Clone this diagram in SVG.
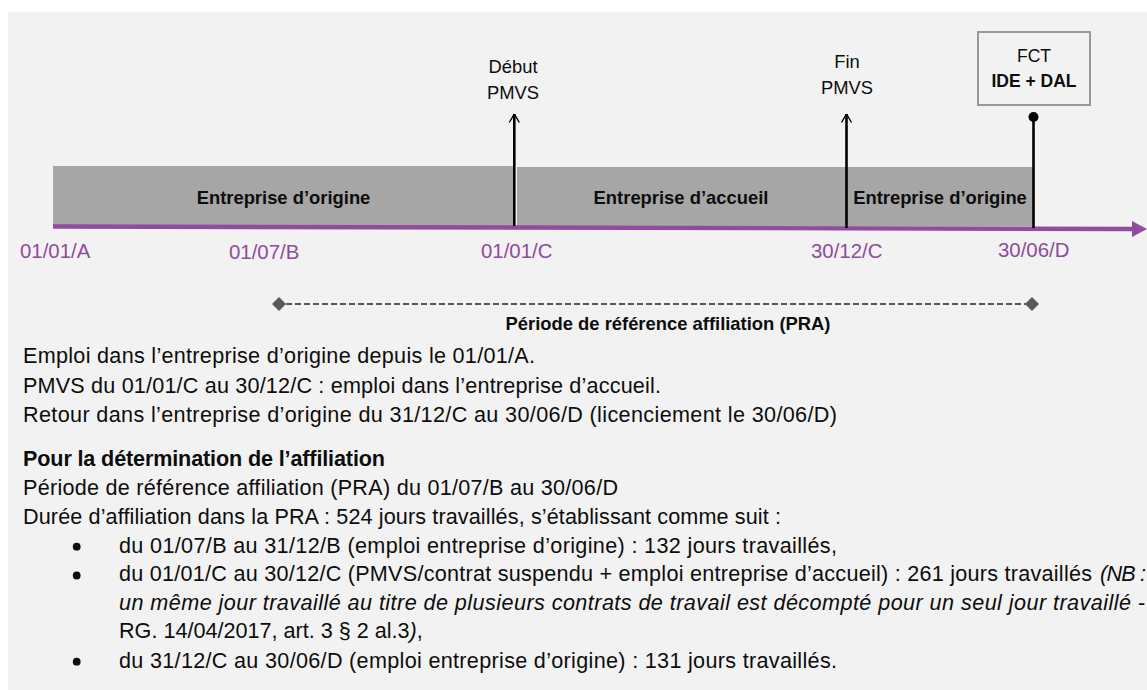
<svg xmlns="http://www.w3.org/2000/svg" width="1147" height="690" viewBox="0 0 1147 690">
  <defs>
    <style>
      .t { font-family: "Liberation Sans", Arial, sans-serif; fill: #0d0d0d; }
      .body { font-size: 21.6px; }
      .bold { font-weight: bold; }
      .it { font-style: italic; }
      .bar { fill: #a6a6a6; }
      .bartxt { font-size: 18.4px; font-weight: bold; text-anchor: middle; }
      .date { font-family: "Liberation Sans", Arial, sans-serif; font-size: 20.4px; fill: #8e4c9b; }
      .evt { font-size: 18.4px; text-anchor: middle; }
      .stem { stroke: #000; stroke-width: 2.6; fill: none; }
      .bul { fill: #0d0d0d; }
      .dia { fill: #595959; }
    </style>
    <marker id="openArrow" viewBox="0 0 10 12" refX="9.5" refY="6" markerWidth="10" markerHeight="12" markerUnits="userSpaceOnUse" orient="auto">
      <path d="M1,1 L9.5,6 L1,11" fill="none" stroke="#000" stroke-width="1.4"/>
    </marker>
  </defs>

  <rect x="8" y="12" width="1139" height="678" fill="#f2f2f2"/>

  <g id="bar-origine-1">
    <rect class="bar" x="53" y="166" width="460" height="60"/>
    <text class="t bartxt" x="283.5" y="204">Entreprise d’origine</text>
  </g>
  <g id="bar-accueil">
    <rect class="bar" x="517" y="167" width="329" height="59"/>
    <text class="t bartxt" x="681" y="204">Entreprise d’accueil</text>
  </g>
  <g id="bar-origine-2">
    <rect class="bar" x="846" y="167" width="187" height="59"/>
    <text class="t bartxt" x="940" y="204">Entreprise d’origine</text>
  </g>

  <g id="connectors">
    <line x1="53" y1="226.5" x2="1134" y2="229" stroke="#904c9e" stroke-width="4.4"/>
    <polygon points="1132,221 1147,229 1132,237" fill="#904c9e"/>
    <line class="stem" x1="514.3" y1="226" x2="514.3" y2="114" marker-end="url(#openArrow)"/>
    <line class="stem" x1="846.5" y1="228" x2="846.5" y2="114" marker-end="url(#openArrow)"/>
    <line class="stem" x1="1033.5" y1="228" x2="1033.5" y2="117" stroke-width="3"/>
    <circle cx="1033.5" cy="117" r="5" fill="#000"/>
    <line x1="286" y1="304" x2="1026" y2="304" stroke="#595959" stroke-width="2" stroke-dasharray="6 3"/>
    <polygon class="dia" points="279,297 286,304 279,311 272,304"/>
    <polygon class="dia" points="1032,297 1039,304 1032,311 1025,304"/>
  </g>

  <g id="evt-debut">
    <text class="t evt" x="513" y="73">Début</text>
    <text class="t evt" x="513" y="99">PMVS</text>
  </g>
  <g id="evt-fin">
    <text class="t evt" x="847" y="68">Fin</text>
    <text class="t evt" x="847" y="94">PMVS</text>
  </g>
  <g id="box-fct">
    <rect x="978" y="32" width="112" height="73" fill="#f2f2f2" stroke="#999" stroke-width="2"/>
    <text class="t" x="1034" y="62" font-size="17.5" text-anchor="middle">FCT</text>
    <text class="t bold" x="1034" y="87" font-size="17.5" text-anchor="middle">IDE + DAL</text>
  </g>

  <g id="dates">
    <text class="date" x="20" y="258">01/01/A</text>
    <text class="date" x="229" y="259">01/07/B</text>
    <text class="date" x="481" y="258">01/01/C</text>
    <text class="date" x="811" y="258">30/12/C</text>
    <text class="date" x="998" y="257">30/06/D</text>
  </g>

  <g id="pra-label">
    <text class="t bold" x="668" y="330" font-size="18.4" text-anchor="middle">Période de référence affiliation (PRA)</text>
  </g>

  <g id="explanation">
    <text class="t body" x="23" y="363" textLength="512" lengthAdjust="spacing">Emploi dans l’entreprise d’origine depuis le 01/01/A.</text>
    <text class="t body" x="23" y="392.5" textLength="638" lengthAdjust="spacing">PMVS du 01/01/C au 30/12/C : emploi dans l’entreprise d’accueil.</text>
    <text class="t body" x="23" y="421.5" textLength="814" lengthAdjust="spacing">Retour dans l’entreprise d’origine du 31/12/C au 30/06/D (licenciement le 30/06/D)</text>
    <text class="t body bold" x="23" y="466" textLength="362" lengthAdjust="spacing">Pour la détermination de l’affiliation</text>
    <text class="t body" x="23" y="495" textLength="595" lengthAdjust="spacing">Période de référence affiliation (PRA) du 01/07/B au 30/06/D</text>
    <text class="t body" x="23" y="524.3" textLength="758" lengthAdjust="spacing">Durée d’affiliation dans la PRA : 524 jours travaillés, s’établissant comme suit :</text>
    <circle class="bul" cx="76.7" cy="546.7" r="3.9"/>
    <text class="t body" x="119" y="552.7" textLength="718" lengthAdjust="spacing">du 01/07/B au 31/12/B (emploi entreprise d’origine) : 132 jours travaillés,</text>
    <circle class="bul" cx="76.7" cy="575.5" r="3.9"/>
    <text class="t body" x="119" y="581.3" textLength="973" lengthAdjust="spacing">du 01/01/C au 30/12/C (PMVS/contrat suspendu + emploi entreprise d’accueil) : 261 jours travaillés</text>
    <text class="t body it" x="1100" y="581.3" textLength="46" lengthAdjust="spacing">(NB :</text>
    <text class="t body it" x="119" y="610" textLength="1026" lengthAdjust="spacing">un même jour travaillé au titre de plusieurs contrats de travail est décompté pour un seul jour travaillé -</text>
    <text class="t body" x="119" y="638.3">RG. 14/04/2017, art. 3 § 2 al.3<tspan class="it">)</tspan>,</text>
    <circle class="bul" cx="76.7" cy="661.7" r="3.9"/>
    <text class="t body" x="119" y="667.7" textLength="718" lengthAdjust="spacing">du 31/12/C au 30/06/D (emploi entreprise d’origine) : 131 jours travaillés.</text>
  </g>
</svg>
